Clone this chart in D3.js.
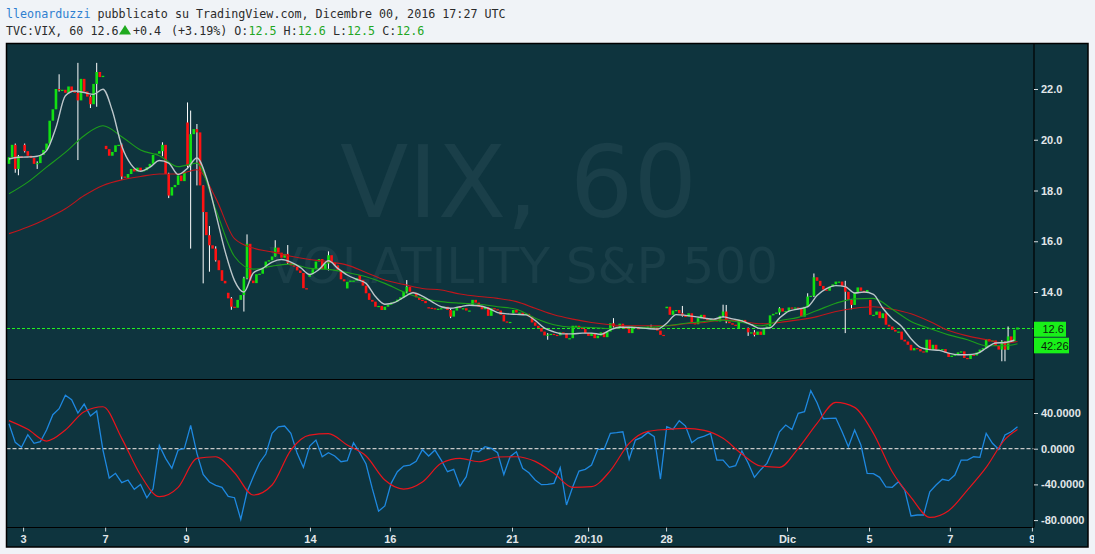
<!DOCTYPE html>
<html><head><meta charset="utf-8">
<script src="https://cdn.jsdelivr.net/npm/d3@7"></script>
<style>
html,body{margin:0;padding:0;background:#f0f3f7;}
svg{display:block;}
</style></head><body>
<svg id="chart" width="1095" height="554"></svg>
<script>
// ---------------- DATA ----------------
// hourly closes, bar 0 .. 322
const closes = [
19.31,19.80,18.85,19.35,19.28,19.55,19.37,19.28,19.05,19.08,
19.40,19.60,19.85,20.75,21.20,22.00,21.95,21.97,21.85,22.10,
21.90,21.85,21.55,22.40,21.90,21.70,21.40,22.20,22.67,22.47,
22.52,19.63,19.37,19.52,19.78,19.80,18.55,18.50,18.65,18.85,
18.75,18.90,18.78,18.80,18.92,19.05,19.40,19.45,19.55,19.80,
18.65,17.80,18.13,18.22,18.59,18.37,18.75,18.98,20.22,20.42,
20.29,18.20,17.15,16.24,15.84,15.71,15.25,14.86,14.44,14.34,
13.75,13.42,13.38,13.69,13.88,14.54,15.90,14.45,14.35,14.70,
14.72,14.94,15.20,15.25,15.40,15.75,15.55,15.35,15.50,15.15,
15.05,15.00,14.85,14.75,14.15,14.10,14.70,14.90,15.20,15.30,
14.90,15.12,15.45,15.15,15.05,14.87,14.50,14.42,14.40,14.45,
14.45,14.55,14.47,14.25,13.95,13.69,13.62,13.42,13.45,13.29,
13.42,13.50,13.58,13.62,13.70,13.79,14.01,14.21,14.01,13.97,
13.79,13.69,13.65,13.56,13.38,13.36,13.32,13.34,13.36,13.42,
13.29,13.03,13.27,13.42,13.36,13.36,13.27,13.27,13.69,13.58,
13.42,13.32,13.40,13.06,13.36,13.32,13.27,13.10,12.84,12.80,
12.82,13.29,13.19,13.19,13.10,13.14,13.03,12.80,12.67,12.58,
12.44,12.29,12.32,12.35,12.31,12.29,12.41,12.38,12.18,12.18,
12.67,12.67,12.62,12.54,12.38,12.27,12.38,12.18,12.28,12.41,
12.22,12.44,12.77,12.64,12.61,12.75,12.61,12.55,12.38,12.64,
12.58,12.56,12.61,12.61,12.64,12.61,12.60,12.48,12.31,12.27,
13.42,13.10,13.27,13.29,13.16,13.06,13.03,13.16,12.77,12.73,
12.97,13.10,12.93,12.90,12.93,12.90,12.84,13.06,13.23,12.84,
12.77,12.71,12.67,12.90,12.90,12.80,12.41,12.41,12.31,12.44,
12.31,12.58,12.64,13.08,13.14,13.19,13.36,13.23,13.25,13.39,
13.36,13.39,13.36,13.03,13.42,13.82,13.85,14.58,14.44,14.24,
14.10,14.05,14.21,14.30,14.41,14.41,14.24,14.01,13.69,13.49,
13.97,14.18,14.05,13.97,14.08,13.10,13.10,13.23,12.97,13.16,
12.71,12.64,12.51,12.44,12.44,12.12,12.05,11.92,11.70,11.79,
11.75,11.66,11.62,12.12,11.73,11.92,11.73,11.73,11.75,11.60,
11.44,11.49,11.53,11.62,11.66,11.40,11.36,11.53,11.50,11.62,
11.73,11.79,12.14,12.05,12.09,11.88,11.73,12.05,11.73,12.25,
12.05,12.51,12.60
];
// opens that differ from the previous close (session gaps): [bar, open]
const gapOpens = [[0,19.05],[5,19.80],[31,19.76],[57,20.68],[70,13.97],[96,14.60],[108,14.14],[112,14.67],
  [134,13.40],[148,13.49],[161,13.16],[210,13.36],[233,12.58],[236,12.58],[275,13.69],[322,12.52]];
// visible wicks: [bar, high, low]
const wicks = [[2,19.85,18.70],[3,19.40,18.60],[5,19.85,19.50],[9,19.15,18.85],[16,22.58,21.90],[22,23.03,19.20],
  [26,21.75,21.25],[28,23.03,21.30],[36,19.85,18.42],[49,19.90,19.35],[51,18.70,17.70],[57,21.47,18.90],
  [58,21.15,15.71],[60,20.62,18.20],[62,17.20,14.34],[64,16.60,14.80],[66,15.80,15.20],[71,13.80,13.30],
  [75,14.60,13.23],[76,16.27,14.50],[85,16.04,15.40],[89,15.85,15.10],[102,15.60,14.85],[127,14.47,13.95],
  [141,13.36,12.97],[172,12.38,12.12],[193,12.97,12.60],[205,12.71,12.58],[215,13.45,13.03],[228,13.50,13.00],
  [229,13.49,12.77],[236,12.60,12.27],[238,12.50,12.25],[246,13.40,13.10],[255,13.95,13.40],[257,14.73,13.80],
  [267,14.44,12.38],[269,13.70,13.32],[317,12.10,11.27],[318,12.00,11.27],[319,12.64,11.85]];

// fast MA (white), read every 3 bars
const whiteMA = [
19.24,19.31,19.32,19.35,19.57,20.48,21.73,21.92,21.86,21.79,
21.99,21.14,19.75,19.02,18.76,18.92,19.18,19.08,18.63,18.88,
19.28,18.52,17.10,15.60,14.45,14.00,14.75,14.93,15.18,15.28,
15.18,14.97,14.69,14.89,15.23,14.93,14.67,14.50,14.34,13.82,
13.52,13.58,13.79,13.97,13.84,13.62,13.42,13.36,13.42,13.48,
13.46,13.36,13.19,13.14,13.12,13.10,12.88,12.58,12.43,12.35,
12.35,12.38,12.38,12.33,12.51,12.61,12.61,12.59,12.56,12.54,
12.77,13.11,13.08,13.03,12.97,12.93,13.02,12.94,12.86,12.71,
12.56,12.59,12.97,13.25,13.33,13.42,13.86,14.13,14.25,14.21,
13.96,14.00,13.91,13.36,12.95,12.64,12.16,11.82,11.73,11.70,
11.59,11.53,11.53,11.57,11.79,11.99,12.01,12.10
];
// medium MA (green) and slow MA (red), read every 6 bars + last bar
const greenMA = [
17.87,18.33,18.92,19.50,20.16,20.55,20.12,19.60,19.37,18.94,
19.08,17.25,15.40,14.90,15.02,15.10,14.93,14.89,14.77,14.60,
14.34,14.00,13.75,13.62,13.56,13.52,13.42,13.32,12.97,12.71,
12.61,12.60,12.56,12.61,12.61,12.67,12.77,12.84,12.89,12.80,
12.67,12.87,13.00,13.27,13.56,13.73,13.75,13.32,12.84,12.56,
12.31,12.12,11.88,11.88,11.96
];
const redMA = [
16.30,16.56,16.89,17.28,17.80,18.20,18.42,18.55,18.65,18.65,
18.82,17.70,16.10,15.73,15.58,15.41,15.28,15.19,15.06,14.77,
14.47,14.30,14.14,14.08,13.92,13.82,13.75,13.62,13.36,13.10,
12.93,12.80,12.71,12.67,12.67,12.67,12.75,12.80,12.90,12.84,
12.75,12.80,12.90,13.03,13.23,13.36,13.42,13.32,13.14,12.84,
12.48,12.27,12.12,11.99,12.05
];
// oscillator (blue), read every 2 bars
const oscBlue = [
28.0,7.1,1.5,15.7,6.0,7.8,20.9,38.1,44.8,60.0,
54.9,40.0,50.0,36.6,42.2,-1.5,-32.9,-27.6,-38.1,-35.1,
-45.5,-40.0,-55.0,-45.0,3.7,-10.8,-22.0,-1.5,0.4,26.1,
-5.2,-28.7,-37.3,-41.0,-43.3,-53.4,-54.9,-79.1,-48.5,-31.4,
-15.7,-6.0,17.2,24.6,25.4,17.2,-5.2,-21.0,3.0,9.7,
-9.0,-4.5,-8.2,-14.6,-13.4,6.7,-4.5,-17.2,-44.8,-70.0,
-64.2,-38.8,-25.8,-19.4,-18.3,-14.2,-1.1,-8.2,-1.5,-12.7,
-25.8,-23.1,-42.0,-31.4,-2.2,-3.4,2.2,0.4,-4.5,-29.0,
-9.0,-3.4,-22.0,-26.9,-35.0,-40.3,-40.0,-38.8,-21.3,-63.1,
-42.6,-25.0,-23.1,-18.3,-0.7,-0.7,17.2,17.9,19.0,-11.9,
9.7,12.7,18.3,13.4,-34.0,24.6,21.6,31.4,25.4,6.7,
11.9,14.2,17.2,-12.7,-12.7,-20.9,-19.0,-2.6,-16.0,-32.1,
-23.5,-16.4,-0.7,19.0,26.5,21.6,39.6,41.4,65.0,51.5,
33.6,34.0,34.3,19.0,2.2,20.9,4.1,-27.6,-28.0,-32.1,
-42.9,-43.3,-37.0,-46.3,-75.4,-74.3,-74.3,-48.2,-40.7,-34.3,
-35.8,-29.5,-12.7,-12.7,-9.0,-9.7,17.2,6.0,-0.7,15.3,
19.0,24.6
];
// oscillator signal (red), read every 6 bars + last bar
const oscRed = [
31.4,21.7,8.6,20.9,41.4,47.0,11.6,-29.5,-53.8,-43.3,
-10.8,-9.0,-26.9,-51.9,-40.7,-1.5,15.3,16.8,4.1,-8.2,
-35.1,-45.2,-37.3,-16.4,-10.8,-14.6,-9.3,-9.0,-14.2,-27.6,
-43.3,-42.6,-24.6,6.0,19.4,21.6,22.8,20.5,11.6,-6.0,
-19.4,-20.9,0.4,28.4,51.9,46.3,17.2,-25.8,-54.5,-76.9,
-69.4,-46.3,-20.9,10.5,21.6
];
const priceTicks = [14, 16, 18, 20, 22];
const oscTicks = [40, 0, -40, -80];
const timeTickBars = [4.5, 30.7, 56.5, 96.1, 121.6, 160.6, 184.9, 209.8, 248.4, 274.6, 300.4, 326.6];
const timeTickLabels = ["3","7","9","14","16","21","20:10","28","Dic","5","7","9"];
const countdownLabel = "42:26";
const headerUser = "lleonarduzzi";
const headerRest = " pubblicato su TradingView.com, Dicembre 00, 2016 17:27 UTC";
const symbolText = "TVC:VIX, 60 12.6";
const changeText = "+0.4";
const ohlcParts = [["(+3.19%) O:","#2b2b2b"],["12.5","#22a622"],[" H:","#2b2b2b"],["12.6","#22a622"],
  [" L:","#2b2b2b"],["12.5","#22a622"],[" C:","#2b2b2b"],["12.6","#22a622"]];
const watermark1 = "VIX, 60";
const watermark2 = "VOLATILITY S&P 500";

// ---------------- LAYOUT ----------------
const BG = "#0e343e";
const L = 6.5, R = 1088, T = 43.5, B = 547, AX = 1034;
const mainBottom = 379.5, oscBottom = 527.5;
const nBars = closes.length;

const svg = d3.select("#chart");
const x = d3.scaleLinear().domain([0, nBars - 1]).range([9, 1017.5]);
const y = d3.scaleLinear().domain([14, 22]).range([292, 89]);
const yo = d3.scaleLinear().domain([0, 40]).range([448.7, 413]);

// header
const hfont = s => s.style("font-family", "'DejaVu Sans Mono', monospace").style("font-size", "11.7px");
const h1 = svg.append("text").attr("x", 6).attr("y", 17.5).call(hfont);
h1.append("tspan").attr("fill", "#2f7fd0").text(headerUser);
h1.append("tspan").attr("fill", "#2b2b2b").text(headerRest);
svg.append("text").attr("x", 6).attr("y", 35).attr("fill", "#2b2b2b").call(hfont).text(symbolText);
svg.append("path").attr("d", "M119,34.5L131,34.5L125,25Z").attr("fill", "#1faa1f");
svg.append("text").attr("x", 133).attr("y", 35).attr("fill", "#2b2b2b").call(hfont).text(changeText);
const h2 = svg.append("text").attr("x", 171).attr("y", 35).call(hfont);
ohlcParts.forEach(p => h2.append("tspan").attr("fill", p[1]).text(p[0]));

// chart frame
svg.append("rect").attr("x", L).attr("y", T).attr("width", R - L).attr("height", B - T)
  .attr("fill", BG).attr("stroke", "#000").attr("stroke-width", 1.5);

const defs = svg.append("defs");
defs.append("clipPath").attr("id", "clipMain").append("rect")
  .attr("x", L + 0.75).attr("y", T + 0.75).attr("width", AX - L - 0.75).attr("height", mainBottom - T - 0.75);
defs.append("clipPath").attr("id", "clipOsc").append("rect")
  .attr("x", L + 0.75).attr("y", mainBottom + 0.5).attr("width", AX - L - 0.75).attr("height", oscBottom - mainBottom - 1);
defs.append("clipPath").attr("id", "clipTime").append("rect")
  .attr("x", L).attr("y", oscBottom).attr("width", AX - L).attr("height", B - oscBottom);

// ---- main pane ----
const main = svg.append("g").attr("clip-path", "url(#clipMain)");
main.append("text").attr("x", 518.5).attr("y", 217).attr("text-anchor", "middle")
  .style("font-family", "'DejaVu Sans', sans-serif").style("font-size", "100px")
  .attr("fill", "#1a3f49").text(watermark1);
main.append("text").attr("x", 523.5).attr("y", 283).attr("text-anchor", "middle")
  .style("font-family", "'DejaVu Sans', sans-serif").style("font-size", "50px")
  .attr("fill", "#1a3f49").text(watermark2);

const lastClose = closes[nBars - 1];
main.append("line").attr("x1", L).attr("x2", AX).attr("y1", Math.round(y(lastClose)) + 0.5).attr("y2", Math.round(y(lastClose)) + 0.5)
  .attr("stroke", "#22f022").attr("stroke-width", 1).attr("stroke-dasharray", "3,2")
  .attr("shape-rendering", "crispEdges");

const gapMap = new Map(gapOpens);
const wickMap = new Map(wicks.map(w => [w[0], w]));
const candles = closes.map((c, i) => {
  const o = gapMap.has(i) ? gapMap.get(i) : closes[i - 1];
  const w = wickMap.get(i);
  const hi = Math.max(o, c, w ? w[1] : -Infinity);
  const lo = Math.min(o, c, w ? w[2] : Infinity);
  return {i, o, c, hi, lo};
});

const bw = 2.6;
const cg = main.append("g");
cg.selectAll("line.wick").data(candles.filter(d => d.hi > Math.max(d.o, d.c) || d.lo < Math.min(d.o, d.c)))
  .join("line").attr("class", "wick")
  .attr("x1", d => x(d.i)).attr("x2", d => x(d.i))
  .attr("y1", d => y(d.hi)).attr("y2", d => y(d.lo))
  .attr("stroke", "#ffffff").attr("stroke-width", 1);
cg.selectAll("rect.body").data(candles).join("rect").attr("class", "body")
  .attr("x", d => x(d.i) - bw / 2).attr("width", bw)
  .attr("y", d => y(Math.max(d.o, d.c)))
  .attr("height", d => Math.max(1.2, Math.abs(y(d.o) - y(d.c))))
  .attr("fill", d => d.c >= d.o ? "#12e012" : "#ff1212");

const ma6Bars = d3.range(0, 319, 6).concat([nBars - 1]);
const white3Bars = d3.range(0, 322, 3);
const maLine = d3.line().x(d => x(d[0])).y(d => y(d[1])).curve(d3.curveMonotoneX);
main.append("path").attr("d", maLine(redMA.map((v, k) => [ma6Bars[k], v])))
  .attr("fill", "none").attr("stroke", "#c0161c").attr("stroke-width", 1.1);
main.append("path").attr("d", maLine(greenMA.map((v, k) => [ma6Bars[k], v])))
  .attr("fill", "none").attr("stroke", "#1c9e1c").attr("stroke-width", 1.1);
main.append("path").attr("d", maLine(whiteMA.map((v, k) => [white3Bars[k], v])))
  .attr("fill", "none").attr("stroke", "#bcc6ca").attr("stroke-width", 1.4);

// ---- oscillator pane ----
const osc = svg.append("g").attr("clip-path", "url(#clipOsc)");
osc.append("line").attr("x1", L).attr("x2", AX).attr("y1", yo(0)).attr("y2", yo(0))
  .attr("stroke", "#c8c8c8").attr("stroke-width", 1.2).attr("stroke-dasharray", "4,2");
const osc2Bars = d3.range(0, nBars, 2);
const oLine = d3.line().x(d => x(d[0])).y(d => yo(d[1]));
osc.append("path").attr("d", oLine(oscBlue.map((v, k) => [osc2Bars[k], v])))
  .attr("fill", "none").attr("stroke", "#1e88e0").attr("stroke-width", 1.3);
osc.append("path").attr("d", oLine.curve(d3.curveMonotoneX)(oscRed.map((v, k) => [ma6Bars[k], v])))
  .attr("fill", "none").attr("stroke", "#e8141c").attr("stroke-width", 1.2);

// ---- separators ----
svg.append("line").attr("x1", AX).attr("x2", AX).attr("y1", T).attr("y2", oscBottom).attr("stroke", "#000").attr("stroke-width", 1.2);
svg.append("line").attr("x1", L).attr("x2", AX).attr("y1", mainBottom).attr("y2", mainBottom).attr("stroke", "#000").attr("stroke-width", 1.2);
svg.append("line").attr("x1", L).attr("x2", AX).attr("y1", oscBottom).attr("y2", oscBottom).attr("stroke", "#000").attr("stroke-width", 1.2);

// ---- axes ----
function styleAxis(g) {
  g.select(".domain").remove();
  g.selectAll(".tick line").attr("stroke", "#d8dde0");
  g.selectAll(".tick text").attr("fill", "#e2e7ea")
    .style("font-family", "'Liberation Sans', Arial, sans-serif").style("font-size", "11px").style("font-weight", "bold");
}
svg.append("g").attr("transform", `translate(${AX},0)`)
  .call(d3.axisRight(y).tickValues(priceTicks).tickFormat(d => d.toFixed(1)).tickSize(4).tickPadding(3))
  .call(styleAxis);
svg.append("g").attr("transform", `translate(${AX},0)`)
  .call(d3.axisRight(yo).tickValues(oscTicks).tickFormat(d => d.toFixed(4)).tickSize(4).tickPadding(3))
  .call(styleAxis);
svg.append("g").attr("clip-path", "url(#clipTime)").append("g").attr("transform", `translate(0,${oscBottom})`)
  .call(d3.axisBottom(x).tickValues(timeTickBars).tickFormat((d, i) => timeTickLabels[i]).tickSize(4).tickPadding(4))
  .call(styleAxis);

// ---- price labels ----
const ly = y(lastClose);
svg.append("rect").attr("x", AX).attr("y", ly - 5.8).attr("width", 32).attr("height", 15).attr("fill", "#19f019");
svg.append("text").attr("x", AX + 8.5).attr("y", ly + 5.5).attr("fill", "#0b1f0b")
  .style("font-family", "'Liberation Sans', Arial, sans-serif").style("font-size", "11px")
  .text(lastClose.toFixed(1));
svg.append("rect").attr("x", AX).attr("y", ly + 10.2).attr("width", 35).attr("height", 15.6).attr("fill", "#19f019");
svg.append("text").attr("x", AX + 7).attr("y", ly + 22).attr("fill", "#0b1f0b")
  .style("font-family", "'Liberation Sans', Arial, sans-serif").style("font-size", "11px")
  .text(countdownLabel);
</script>
</body></html>
